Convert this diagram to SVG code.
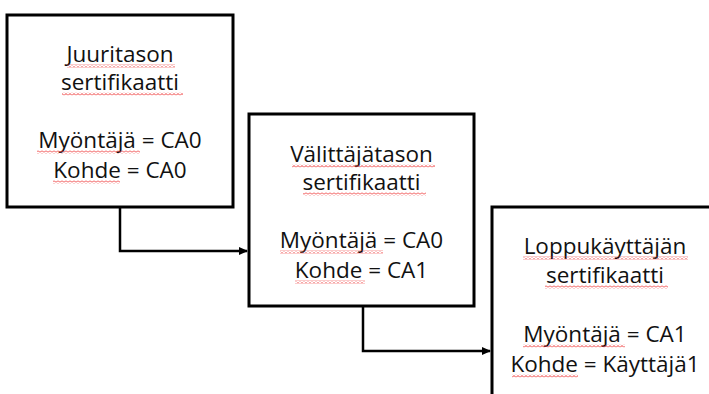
<svg xmlns="http://www.w3.org/2000/svg" width="709" height="394" viewBox="0 0 709 394">
<defs>
<style>
.box{fill:#fff;stroke:#000;stroke-width:3}
.t{font-family:"Open Sans","Liberation Sans",sans-serif;font-size:22.5px;fill:#111;text-anchor:middle}
.c{fill:none;stroke:#000;stroke-width:2.5}
.sq{fill:url(#wave)}
</style>
<pattern id="wave" patternUnits="userSpaceOnUse" width="4" height="3">
<polyline points="0,2.5 2,0.5 4,2.5" fill="none" stroke="#e33" stroke-width="1"/>
</pattern>
<marker id="ah" markerWidth="9" markerHeight="9" refX="8" refY="4.5" orient="auto" markerUnits="userSpaceOnUse">
<path d="M0,0.5 L9,4.5 L0,8.5 Z" fill="#000"/>
</marker>
</defs>
<rect width="709" height="394" fill="#fff"/>
<g id="connectors">
<path class="c" d="M120,207 V251 H247" marker-end="url(#ah)"/>
<path class="c" d="M363,306 V351 H490" marker-end="url(#ah)"/>
</g>
<g id="root">
<rect class="box" x="7" y="15" width="226" height="192"/>
<text class="t" x="120" y="62">Juuritason</text>
<text class="t" x="120" y="90">sertifikaatti</text>
<text class="t" x="120" y="148">Myöntäjä = CA0</text>
<text class="t" x="120" y="178">Kohde = CA0</text>
<rect class="sq" x="67" y="64.5" width="108" height="3"/>
<rect class="sq" x="62" y="92.5" width="121" height="3"/>
<rect class="sq" x="37" y="150.5" width="103" height="3"/>
<rect class="sq" x="53" y="180.5" width="67" height="3"/>
</g>
<g id="intermediate">
<rect class="box" x="249" y="114" width="225" height="192"/>
<text class="t" x="361.5" y="162">Välittäjätason</text>
<text class="t" x="361.5" y="190">sertifikaatti</text>
<text class="t" x="361.5" y="248">Myöntäjä = CA0</text>
<text class="t" x="361.5" y="278">Kohde = CA1</text>
<rect class="sq" x="292" y="164.5" width="143" height="3"/>
<rect class="sq" x="303" y="192.5" width="123" height="3"/>
<rect class="sq" x="280" y="250.5" width="103" height="3"/>
<rect class="sq" x="295" y="280.5" width="70" height="3"/>
</g>
<g id="enduser">
<rect class="box" x="492" y="207" width="240" height="200"/>
<text class="t" x="605" y="254">Loppukäyttäjän</text>
<text class="t" x="605" y="283">sertifikaatti</text>
<text class="t" x="605" y="342">Myöntäjä = CA1</text>
<text class="t" x="605" y="372">Kohde = Käyttäjä1</text>
<rect class="sq" x="523" y="256.5" width="165" height="3"/>
<rect class="sq" x="545" y="285.5" width="123" height="3"/>
<rect class="sq" x="523" y="344.5" width="102" height="3"/>
<rect class="sq" x="512" y="374.5" width="66" height="3"/>
</g>
</svg>
